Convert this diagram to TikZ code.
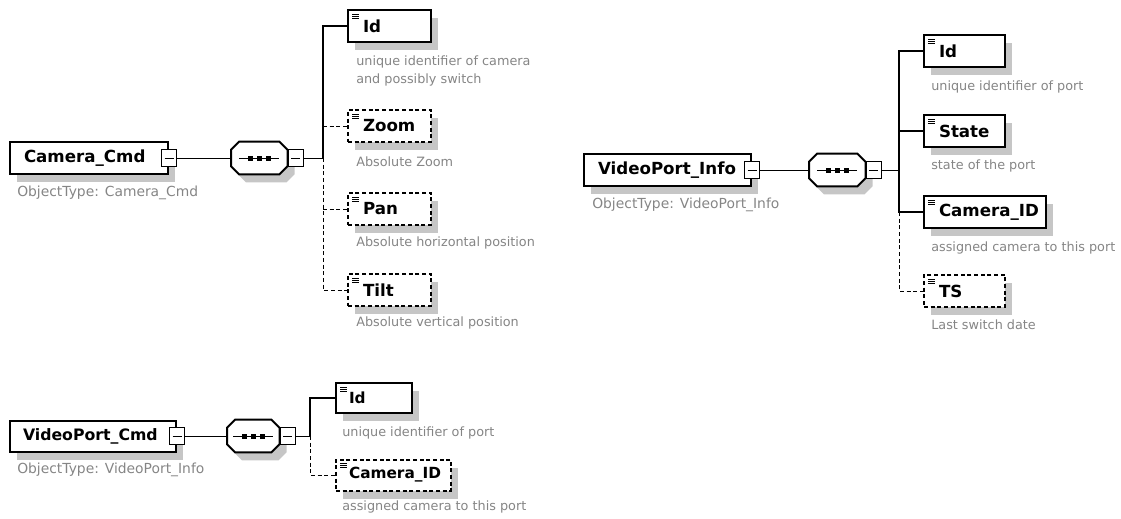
\documentclass[tikz,border=0pt]{standalone}
\usepackage{fontspec}
\setmainfont{DejaVu Sans}
\usepackage{tikz}
\usetikzlibrary{shadows}
\definecolor{note-gray}{HTML}{858585}
\definecolor{shade-gray}{HTML}{C6C6C6}
\newdimen\pxu
\pxu=0.75pt

\tikzset{
	boxshadow/.style={general shadow={fill=shade-gray,shadow xshift=5.25pt,shadow yshift=-6pt}},
	typebox/.style={draw,fill=white,line width=1.5pt,boxshadow,anchor=west,inner xsep=14\pxu,inner ysep=0pt,
		text width=#1,align=left,minimum height=32\pxu,font=\fontsize{12.5}{14}\selectfont\bfseries},
	expander/.style={draw,fill=white,line width=0.75pt,minimum width=15\pxu,minimum height=17\pxu,inner sep=0pt,
		path picture={\draw[line width=0.75pt] ([shift={(3,0)}]path picture bounding box.west) -- ([shift={(-3,0)}]path picture bounding box.east);}},
	seq/.style={anchor=west,inner sep=0pt,minimum width=56\pxu,minimum height=32\pxu},
	octagon/.style={draw,fill=white,line width=1.5pt,boxshadow},
	lined/.style={path picture={\foreach \k in {4,6,8}
			\draw[solid,line width=0.6pt] ([shift={(4,\k)}]path picture bounding box.north west) -- ++(7,0);}},
	elem/.style={draw,fill=white,line width=1.5pt,boxshadow,lined,anchor=west,
		inner xsep=15\pxu,inner ysep=0pt,text width=#1,align=left,minimum height=32\pxu,
		font=\fontsize{12.5}{14}\selectfont\bfseries},
	optelem/.style={elem=#1,dash pattern=on 3pt off 2pt},
	note/.style={anchor=west,inner sep=0pt,align=left,text=note-gray,font=\fontsize{9.6}{13.5}\selectfont},
	typenote/.style={note,font=\fontsize{10.4}{13.5}\selectfont},
	link/.style={line width=0.75pt},
	bus/.style={line width=1.5pt},
	optbus/.style={line width=0.75pt,dash pattern=on 3pt off 2pt}
}

\begin{document}
\begin{tikzpicture}[x=0.75pt,y=-0.75pt]
	\useasboundingbox (0,0) rectangle (1121,518);

	% type boxes and sequence groups
	\node[typebox=130\pxu] (cam) at (9,158) {Camera\_Cmd};
	\node[expander] (camx) at (cam.east) {};
	\node[typenote] (camtype) at (17,193) {ObjectType: Camera\_Cmd};
	\node[seq] (camseq) at (231,158) {};

	\node[typebox=139\pxu] (info) at (583,170) {VideoPort\_Info};
	\node[expander] (infox) at (info.east) {};
	\node[typenote] (infotype) at (592,205) {ObjectType: VideoPort\_Info};
	\node[seq] (infoseq) at (809,170) {};

	\node[typebox=140\pxu,inner xsep=13\pxu,minimum height=31\pxu,font=\fontsize{11.8}{14}\selectfont\bfseries] (cmd) at (9,436) {VideoPort\_Cmd};
	\node[expander] (cmdx) at (cmd.east) {};
	\node[typenote] (cmdtype) at (17,470) {ObjectType: VideoPort\_Info};
	\node[seq,minimum width=52\pxu] (cmdseq) at (227,436) {};

	\foreach \s in {camseq,infoseq,cmdseq}
		{\draw[octagon] ([shift={(8,0)}]\s.north west) -- ([shift={(-8,0)}]\s.north east) -- ([shift={(0,8)}]\s.north east)
			-- ([shift={(0,-8)}]\s.south east) -- ([shift={(-8,0)}]\s.south east) -- ([shift={(8,0)}]\s.south west)
			-- ([shift={(0,-8)}]\s.south west) -- ([shift={(0,8)}]\s.north west) -- cycle;
		\draw[link] ([shift={(-20,0)}]\s.center) -- ([shift={(20,0)}]\s.center);
		\foreach \d in {-9,0,9}
			\fill ([shift={(\d-2.5,-2)}]\s.center) rectangle ++(5,4.5);
		\node[expander,anchor=west] (\s-x) at (\s.east) {};}

	\coordinate (cambus) at (323,158);
	\coordinate (infobus) at (899,170);
	\coordinate (cmdbus) at (310,436);
	\draw[link] (camx.east) -- (camseq.west);
	\draw[link] (camseq-x.east) -- (cambus);
	\draw[link] (infox.east) -- (infoseq.west);
	\draw[link] (infoseq-x.east) -- (infobus);
	\draw[link] (cmdx.east) -- (cmdseq.west);
	\draw[link] (cmdseq-x.east) -- (cmdbus);

	% Camera_Cmd children
	\node[elem=53\pxu] (camId) at (347,26) {Id};
	\node[optelem=53\pxu] (camZoom) at (347,126) {Zoom};
	\node[optelem=53\pxu] (camPan) at (347,209) {Pan};
	\node[optelem=53\pxu] (camTilt) at (347,290) {Tilt};
	\draw[bus] (cambus) |- (camId.west);
	\draw[optbus] (cambus) |- (camTilt.west);
	\foreach \e in {camZoom,camPan}
		{\draw[optbus] (\e.west -| cambus) -- (\e.west);}

	\node[note] (camIdnote) at (356,71) {unique identifier of camera\\and possibly switch};
	\node[note] (camZoomnote) at (356,162) {Absolute Zoom};
	\node[note] (camPannote) at (356,243) {Absolute horizontal position};
	\node[note] (camTiltnote) at (356,323) {Absolute vertical position};

	% VideoPort_Info children
	\node[elem=51\pxu] (infoId) at (923,51) {Id};
	\node[elem=51\pxu] (infoState) at (923,131) {State};
	\node[elem=92\pxu] (infoCam) at (923,212) {Camera\_ID};
	\node[optelem=51\pxu] (infoTS) at (923,291) {TS};
	\draw[bus] (infobus) |- (infoId.west);
	\draw[bus] (infoState.west -| infobus) -- (infoState.west);
	\draw[bus] (infobus) |- (infoCam.west);
	\draw[optbus] (infoCam.west -| infobus) |- (infoTS.west);

	\node[note] (infoIdnote) at (931,87) {unique identifier of port};
	\node[note] (infoStatenote) at (931,166) {state of the port};
	\node[note] (infoCamnote) at (931,248) {assigned camera to this port};
	\node[note] (infoTSnote) at (931,325) {Last switch date};

	% VideoPort_Cmd children
	\node[elem=50\pxu,inner xsep=13\pxu,minimum height=30\pxu,font=\fontsize{11.5}{13}\selectfont\bfseries] (cmdId) at (335,398) {Id};
	\node[optelem=89\pxu,inner xsep=13\pxu,minimum height=31\pxu,font=\fontsize{11.5}{13}\selectfont\bfseries] (cmdCam) at (335,475) {Camera\_ID};
	\draw[bus] (cmdbus) |- (cmdId.west);
	\draw[optbus] (cmdbus) |- (cmdCam.west);

	\node[note] (cmdIdnote) at (342,433) {unique identifier of port};
	\node[note] (cmdCamnote) at (342,507) {assigned camera to this port};
\end{tikzpicture}
\end{document}
